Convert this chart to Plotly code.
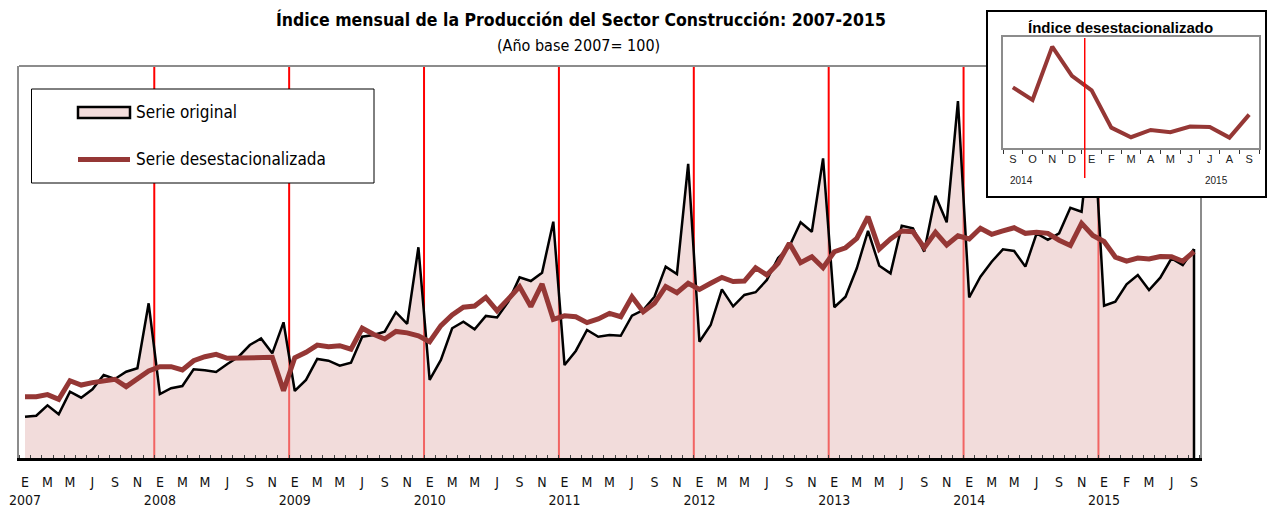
import plotly.graph_objects as go

# ---------------- data ----------------
# monthly index, Jan-2007 (0) ... Sep-2015 (104)
month_index = list(range(105))

serie_original = [
    80.8, 81.4, 87.9, 82.3, 96.4, 92.7, 97.9, 106.9, 104.4, 108.9, 111.1, 151.7,
    95.0, 98.6, 100.0, 110.4, 109.9, 108.8, 113.8, 118.3, 125.6, 129.7, 120.4, 139.8,
    96.9, 103.8, 116.9, 115.8, 112.7, 114.6, 130.8, 131.9, 134.0, 146.1, 138.8, 186.7,
    103.8, 116.3, 136.1, 140.2, 135.4, 143.8, 142.8, 152.7, 167.9, 165.6, 170.8, 202.7,
    113.1, 121.9, 135.0, 130.8, 131.9, 131.4, 143.9, 147.5, 155.8, 174.6, 170.0, 238.8,
    127.7, 138.1, 160.4, 149.8, 156.9, 158.6, 166.3, 180.0, 187.1, 202.3, 196.4, 242.3,
    149.2, 155.8, 173.6, 196.9, 175.2, 170.4, 200.2, 198.6, 184.0, 218.9, 202.3, 278.1,
    155.3, 168.3, 177.7, 185.4, 184.4, 174.6, 195.4, 191.3, 195.4, 211.4, 208.9, 272.0,
    150.2, 152.7, 163.6, 169.4, 160.0, 167.7, 179.8, 175.6, 185.6,
]

serie_desest = [
    93.3, 93.3, 94.6, 91.7, 103.3, 100.6, 102.1, 103.1, 104.2, 99.6, 104.2, 109.4,
    112.1, 112.1, 110.0, 115.8, 118.3, 119.8, 117.3, 117.3, 117.9, 117.3, 117.9, 97.1,
    117.7, 121.1, 125.6, 124.6, 125.2, 123.0, 136.1, 132.3, 129.4, 134.1, 133.2, 131.4,
    127.7, 137.7, 144.4, 149.2, 150.0, 155.4, 147.0, 154.4, 162.1, 149.6, 163.8, 141.7,
    143.9, 143.3, 139.6, 141.9, 145.4, 143.3, 155.8, 146.4, 151.7, 162.1, 158.3, 164.2,
    160.4, 164.2, 167.9, 165.3, 165.6, 173.9, 169.4, 176.7, 189.2, 177.1, 180.8, 173.9,
    183.9, 186.4, 192.3, 205.8, 185.6, 191.9, 196.9, 196.4, 186.4, 196.1, 188.1, 193.9,
    191.9, 198.6, 194.8, 196.9, 198.9, 195.4, 196.1, 195.4, 191.1, 187.8, 201.7, 194.1,
    190.3, 180.6, 178.1, 180.0, 179.4, 180.9, 180.8, 178.0, 184.0,
]

years = ["2007", "2008", "2009", "2010", "2011", "2012", "2013", "2014", "2015"]
month_labels = ["E", "M", "M", "J", "S", "N"] * 8 + ["E", "F", "M", "J", "S"]

inset_start = 92  # Sep-2014
inset_labels = ["S", "O", "N", "D", "E", "F", "M", "A", "M", "J", "J", "A", "S"]
inset_years = ["2014", "2015"]

# ---------------- styling ----------------
W, H = 1269, 507
NARROW = "Liberation Sans Narrow, Arial Narrow, DejaVu Sans Condensed, sans-serif"
ARIAL = "Liberation Sans, Arial, sans-serif"
DARKRED = "#953735"
FILL = "rgba(230,189,187,0.53)"


def px(x):
    return x / W


def py(y):
    return 1 - y / H


# tick values / texts for the main axis (a label every two months, year under January)
tick_vals = month_index[::2]
tick_text = []
for lab, m in zip(month_labels, tick_vals):
    tick_text.append(lab + "<br>" + years[m // 12] if m % 12 == 0 else lab)

fig = go.Figure()

# original series: filled area with black outline
fig.add_trace(go.Scatter(
    x=month_index, y=serie_original, mode="lines", fill="tozeroy",
    fillcolor=FILL, line=dict(color="black", width=2.5),
    showlegend=False, hoverinfo="skip"))
# closing vertical edge of the area at the last month
fig.add_trace(go.Scatter(
    x=[month_index[-1], month_index[-1]], y=[serie_original[-1], 0],
    mode="lines", line=dict(color="black", width=2.5),
    showlegend=False, hoverinfo="skip"))
# seasonally adjusted series
fig.add_trace(go.Scatter(
    x=month_index, y=serie_desest, mode="lines",
    line=dict(color=DARKRED, width=5),
    showlegend=False, hoverinfo="skip"))

# white background of the inset box (blank unit subplot, hides the main chart)
fig.add_trace(go.Scatter(
    x=[0, 1, 1, 0, 0], y=[0, 0, 1, 1, 0], mode="lines", fill="toself",
    fillcolor="white", line=dict(width=0, color="white"),
    xaxis="x3", yaxis="y3", showlegend=False, hoverinfo="skip"))

# inset series (same data, last 13 months)
fig.add_trace(go.Scatter(
    x=month_index[inset_start:], y=serie_desest[inset_start:], mode="lines",
    line=dict(color=DARKRED, width=4), xaxis="x4", yaxis="y4",
    showlegend=False, hoverinfo="skip"))

xr = [-0.534, 104.534]
fig.update_layout(
    width=W, height=H, autosize=False,
    margin=dict(l=0, r=0, t=0, b=0, pad=0),
    paper_bgcolor="white", plot_bgcolor="white",
    xaxis=dict(
        domain=[px(19), px(1200)], range=xr, anchor="y", automargin=False,
        tickmode="array", tickvals=tick_vals, ticktext=tick_text, tickangle=0,
        ticks="", ticklabelstandoff=9, showgrid=False, zeroline=False,
        showline=True, linecolor="black", linewidth=3,
        tickfont=dict(family=NARROW, size=14, color="#111"),
        minor=dict(ticks="inside", ticklen=3, tickcolor="#444", tickwidth=1,
                   tickmode="linear", tick0=0.5, dtick=1, showgrid=False),
    ),
    yaxis=dict(
        domain=[py(458), py(66)], range=[55, 300], anchor="x", automargin=False,
        showticklabels=False, ticks="", showgrid=False, zeroline=False,
        showline=True, mirror=True, linecolor="#8c8c8c", linewidth=2,
    ),
    # blank subplot used as the white background of the inset box
    xaxis3=dict(domain=[px(987), px(1266)], range=[0, 1], anchor="y3",
                visible=False, automargin=False),
    yaxis3=dict(domain=[py(197), py(11)], range=[0, 1], anchor="x3",
                visible=False, automargin=False),
    # inset plot
    xaxis4=dict(
        domain=[px(1003), px(1259)], range=[inset_start - 0.5, month_index[-1] + 0.5],
        anchor="y4", automargin=False, tickangle=0,
        tickmode="array", tickvals=month_index[inset_start:],
        ticktext=inset_labels, ticks="", showgrid=False, zeroline=False,
        showline=True, mirror=True, linecolor="#8c8c8c", linewidth=2,
        tickfont=dict(family=ARIAL, size=11, color="#222"),
        minor=dict(ticks="outside", ticklen=4, tickcolor="#333", tickwidth=1,
                   tickmode="linear", tick0=inset_start - 0.5, dtick=1, showgrid=False),
    ),
    yaxis4=dict(
        domain=[py(148), py(37)], range=[175.3, 204.2], anchor="x4", automargin=False,
        showticklabels=False, ticks="", showgrid=False, zeroline=False,
        showline=True, mirror=True, linecolor="#8c8c8c", linewidth=2,
    ),
)

shapes = []
# year-break red lines (between December and January)
for k in range(8):
    shapes.append(dict(type="line", xref="x", yref="y domain",
                       x0=11.5 + 12 * k, x1=11.5 + 12 * k, y0=0, y1=1,
                       line=dict(color="#ff0000", width=2), layer="below"))
# top border of main plot
shapes.append(dict(type="line", xref="x domain", yref="y domain", x0=0, x1=1, y0=1, y1=1,
                   line=dict(color="#8c8c8c", width=2), layer="below"))
# inset red line
shapes.append(dict(type="line", xref="x4", yref="paper", x0=95.65, x1=95.65,
                   y0=py(178), y1=py(38), line=dict(color="#ff0000", width=1.5), layer="above"))
# inset box border
shapes.append(dict(type="rect", xref="paper", yref="paper", x0=px(987), x1=px(1266),
                   y0=py(197), y1=py(11), line=dict(color="black", width=2),
                   fillcolor="rgba(0,0,0,0)", layer="above"))
# legend box
shapes.append(dict(type="rect", xref="paper", yref="paper", x0=px(31.5), x1=px(374),
                   y0=py(183), y1=py(89), line=dict(color="black", width=1),
                   fillcolor="white", layer="above"))
shapes.append(dict(type="rect", xref="paper", yref="paper", x0=px(78), x1=px(130),
                   y0=py(118), y1=py(107), line=dict(color="black", width=2.5),
                   fillcolor="#F2DCDB", layer="above"))
shapes.append(dict(type="line", xref="paper", yref="paper", x0=px(78), x1=px(130),
                   y0=py(159.5), y1=py(159.5), line=dict(color=DARKRED, width=5),
                   layer="above"))
fig.update_layout(shapes=shapes)

ann = [
    dict(text="<b>Índice mensual de la Producción del Sector Construcción: 2007-2015</b>",
         x=px(581), y=py(20), font=dict(family=NARROW, size=17.5, color="black"),
         xanchor="center", yanchor="middle"),
    dict(text="(Año base 2007= 100)", x=px(578), y=py(45),
         font=dict(family=NARROW, size=16, color="black"),
         xanchor="center", yanchor="middle"),
    dict(text="Serie original", x=px(134), y=py(111.5),
         font=dict(family=NARROW, size=17, color="black"),
         xanchor="left", yanchor="middle"),
    dict(text="Serie desestacionalizada", x=px(134), y=py(159),
         font=dict(family=NARROW, size=17, color="black"),
         xanchor="left", yanchor="middle"),
    dict(text="<b>Índice desestacionalizado</b>", x=px(1120), y=py(27),
         font=dict(family=ARIAL, size=15, color="black"),
         xanchor="center", yanchor="middle"),
    dict(text=inset_years[0], x=px(1021), y=py(180),
         font=dict(family=ARIAL, size=10, color="#222"),
         xanchor="center", yanchor="middle"),
    dict(text=inset_years[1], x=px(1216), y=py(180),
         font=dict(family=ARIAL, size=10, color="#222"),
         xanchor="center", yanchor="middle"),
]
for a in ann:
    a.update(xref="paper", yref="paper", showarrow=False)
fig.update_layout(annotations=ann)

fig.write_html("out.html", config={"displayModeBar": False},
               post_script="document.body.style.margin='0';document.body.style.padding='0';")
